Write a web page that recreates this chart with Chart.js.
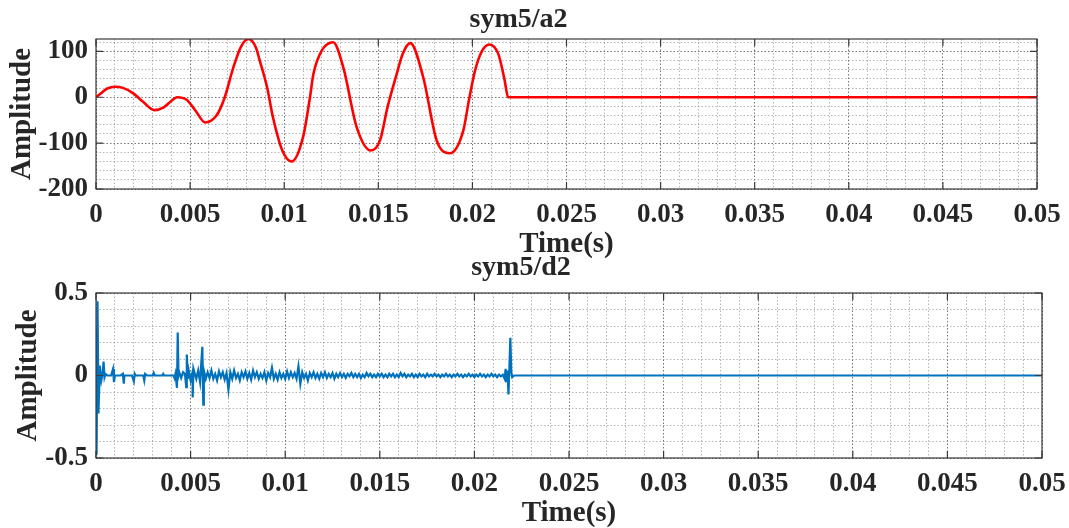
<!DOCTYPE html>
<html>
<head>
<meta charset="utf-8">
<title>sym5 a2 / d2</title>
<script src="https://cdn.jsdelivr.net/npm/chart.js@4.4.1/dist/chart.umd.min.js"></script>
<style>
  html, body { margin: 0; padding: 0; background: #fff; }
  #wrap { position: relative; width: 1069px; height: 528px; overflow: hidden; }
  .panel { position: absolute; left: 0; width: 1069px; }
  #top { top: 0; height: 264px; }
  #bottom { top: 250px; height: 278px; }
</style>
</head>
<body>
<div id="wrap">
  <div class="panel" id="top"><canvas id="graph-a2"></canvas></div>
  <div class="panel" id="bottom"><canvas id="graph-d2"></canvas></div>
</div>
<script>
/* x axis (seconds) */
var xMajorTicks = [0, 0.005, 0.01, 0.015, 0.02, 0.025, 0.03, 0.035, 0.04, 0.045, 0.05];
var xTickLabels = ['0', '0.005', '0.01', '0.015', '0.02', '0.025', '0.03', '0.035', '0.04', '0.045', '0.05'];

/* a2 approximation */
var a2Time = [0, 0.0003, 0.0006, 0.001, 0.0014, 0.002, 0.0025, 0.0031, 0.0036, 0.004,
  0.0043, 0.0048, 0.0053, 0.0058, 0.0064, 0.0068, 0.0073, 0.0077, 0.0081, 0.0085,
  0.0087, 0.0091, 0.0094, 0.0099, 0.0104, 0.011, 0.01137, 0.01155, 0.012, 0.0126,
  0.01314, 0.01385, 0.0146, 0.01509, 0.0155, 0.01598, 0.0163, 0.0167, 0.01739, 0.0181,
  0.0188, 0.01952, 0.0198, 0.02014, 0.0205, 0.0209, 0.02138, 0.0217, 0.0219, 0.05];
var a2Amp = [0, 10, 19, 23, 21, 8, -10, -28, -22, -8,
  0, -5, -30, -55, -40, -5, 65, 110, 127, 108,
  80, 20, -43, -116, -140, -87, 0, 50, 102, 120,
  65, -65, -116, -94, -20, 51, 95, 118, 43, -94,
  -122, -72, -10, 58, 100, 115, 94, 40, 0, 0];
var a2YTicks = [-200, -100, 0, 100];
var a2YLabels = ['-200', '-100', '0', '100'];

/* d2 detail */
var d2HeadTime = [0, 0.00003, 0.00008, 0.00013, 0.0002, 0.00028, 0.00035, 0.0004, 0.00045, 0.0005,
  0.0006, 0.0008, 0.0009, 0.00095, 0.001, 0.0013, 0.00142, 0.00147, 0.0015, 0.0019,
  0.002, 0.00205, 0.0021, 0.0025, 0.00255, 0.0026, 0.0027, 0.003, 0.00305, 0.0031,
  0.0035, 0.00355, 0.0036, 0.0041, 0.00415, 0.0042, 0.00428, 0.00432, 0.00436, 0.0044,
  0.0045, 0.0046, 0.0047, 0.00477, 0.0048, 0.00485, 0.0049, 0.005, 0.0051, 0.00511,
  0.00515, 0.0053, 0.0054, 0.0055, 0.00562, 0.00567, 0.0057, 0.0058];
var d2HeadAmp = [0.28, -0.48, 0.45, -0.23, 0.06, -0.03, 0.01, 0.085, -0.01, 0.01,
  0, 0, 0.04, -0.04, 0, 0, 0.01, -0.05, 0, 0,
  -0.035, 0.01, 0, 0, -0.03, 0.01, 0, 0, 0.015, 0,
  0, 0.01, 0, 0, -0.015, 0.01, -0.075, 0.26, 0, 0.02,
  -0.015, 0.02, 0.01, -0.07, 0.127, -0.02, 0.03, -0.03, 0.02, -0.133,
  0.04, -0.02, 0.03, -0.04, 0.174, -0.176, 0.03, -0.02];
var d2NoiseStart = 0.0059, d2NoiseStep = 0.0001;
var d2NoiseAmp = [
  0.02, -0.015, 0.03, -0.02, 0.01, -0.03, 0.025, -0.01, 0.02, -0.025,
  0.015, -0.085, 0.02, -0.02, 0.03, -0.015, 0.01, -0.03, 0.02, -0.01,
  0.025, -0.02, 0.015, -0.025, 0.03, -0.01, 0.02, -0.02, 0.01, -0.015,
  0.02, -0.03, 0.015, -0.01, 0.047, -0.02, 0.01, -0.025, 0.02, -0.015,
  0.01, -0.02, 0.025, -0.015, 0.02, -0.01, 0.015, -0.02, 0.056, -0.05,
  0.02, -0.015, 0.01, -0.03, 0.015, -0.01, 0.02, -0.015, 0.01, -0.02,
  0.015, -0.01, 0.02, -0.015, 0.01, -0.01, 0.015, -0.02, 0.01, -0.01,
  0.015, -0.01, 0.01, -0.015, 0.01, -0.005, 0.015, -0.01, 0.01, -0.01,
  0.01, -0.015, 0.005, -0.01, 0.015, -0.005, 0.01, -0.01, 0.005, -0.01,
  0.01, -0.005, 0.01, -0.01, 0.005, -0.01, 0.01, -0.005, 0.01, -0.01,
  0.005, -0.01, 0.015, -0.005, 0.01, -0.01, 0.005, -0.005, 0.01, -0.01,
  0.005, -0.01, 0.01, -0.005, 0.005, -0.01, 0.01, -0.005, 0.005, -0.005,
  0.01, -0.005, 0.005, -0.01, 0.005, -0.005, 0.01, -0.005, 0.005, -0.01,
  0.005, -0.005, 0.01, -0.005, 0.005, -0.01, 0.005, -0.005, 0.01, -0.005,
  0.005, -0.01, 0.005, -0.005, 0.01, -0.005, 0.005, -0.01, 0.005, -0.005,
  0.01, -0.005, 0.005, -0.01, 0.005, -0.005];
var d2TailTime = [0.0215, 0.0216, 0.02165, 0.0217, 0.02175, 0.0218, 0.02185, 0.0219, 0.02195, 0.022, 0.0221, 0.05];
var d2TailAmp = [0.005, -0.02, 0.04, -0.04, 0.03, -0.115, 0.05, 0.228, 0.02, -0.01, 0, 0];
var d2YTicks = [-0.5, 0, 0.5];
var d2YLabels = ['-0.5', '0', '0.5'];

Chart.defaults.font.family = '"Liberation Serif", "Times New Roman", serif';
Chart.defaults.font.weight = 'bold';
Chart.defaults.color = '#262626';

var majorGrid = 'rgba(70,70,70,0.75)';
var minorGrid = 'rgba(120,120,120,0.55)';

function near(v, list) {
	for (var i = 0; i < list.length; i++) {
		if (Math.abs(v - list[i]) < 1e-9 * Math.max(1, Math.abs(list[i]))) return i;
	}
	return -1;
}

function pairs(ts, vs) {
	return ts.map(function(t, i) { return { x: t, y: vs[i] }; });
}

function d2Data() {
	var pts = pairs(d2HeadTime, d2HeadAmp);
	d2NoiseAmp.forEach(function(v, i) {
		pts.push({ x: +(d2NoiseStart + i * d2NoiseStep).toFixed(5), y: v });
	});
	return pts.concat(pairs(d2TailTime, d2TailAmp));
}

/* box round the axes with inward tick marks, like the original figure */
var boxPlugin = {
	id: 'box',
	afterDatasetsDraw: function(chart, args, opts) {
		var ctx = chart.ctx, a = chart.chartArea, x = chart.scales.x, y = chart.scales.y;
		ctx.save();
		ctx.strokeStyle = '#3a3a3a';
		ctx.lineWidth = 1.2;
		ctx.strokeRect(a.left, a.top, a.right - a.left, a.bottom - a.top);
		ctx.beginPath();
		xMajorTicks.forEach(function(v) {
			var p = x.getPixelForValue(v);
			ctx.moveTo(p, a.bottom); ctx.lineTo(p, a.bottom - 7);
			ctx.moveTo(p, a.top); ctx.lineTo(p, a.top + 7);
		});
		opts.yTicks.forEach(function(v) {
			var p = y.getPixelForValue(v);
			ctx.moveTo(a.left, p); ctx.lineTo(a.left + 7, p);
			ctx.moveTo(a.right, p); ctx.lineTo(a.right - 7, p);
		});
		ctx.stroke();
		ctx.restore();
	}
};

function makeChart(id, cfg) {
	return new Chart(document.getElementById(id), {
		type: 'line',
		data: {
			datasets: [{
				data: cfg.data,
				borderColor: cfg.color,
				borderWidth: cfg.width,
				pointRadius: 0,
				cubicInterpolationMode: cfg.smooth ? 'monotone' : 'default',
				tension: 0,
				fill: false
			}]
		},
		plugins: [boxPlugin],
		options: {
			responsive: true,
			maintainAspectRatio: false,
			animation: false,
			events: [],
			layout: { padding: { left: 0, right: cfg.padRight, top: 0, bottom: 0 } },
			plugins: {
				legend: { display: false },
				tooltip: { enabled: false },
				title: {
					display: true,
					text: cfg.title,
					font: { size: 28, weight: 'bold', lineHeight: 1.2 },
					color: '#262626',
					padding: cfg.titlePad
				},
				box: { yTicks: cfg.yTicks }
			},
			scales: {
				x: {
					type: 'linear',
					min: 0,
					max: 0.05,
					afterFit: function(s) {
						s.height = cfg.xHeight;
						s.paddingLeft = 0;
						s.paddingRight = 0;
					},
					border: { display: false, dash: [1.5, 2] },
					grid: {
						drawTicks: false,
						lineWidth: 1,
						color: function(c) { return near(c.tick.value, xMajorTicks) >= 0 ? majorGrid : minorGrid; }
					},
					ticks: {
						stepSize: 0.001,
						autoSkip: false,
						maxRotation: 0,
						padding: 10,
						font: { size: 27, weight: 'bold', lineHeight: 1.2 },
						callback: function(v) {
							var i = near(v, xMajorTicks);
							return i >= 0 ? xTickLabels[i] : '';
						}
					},
					title: {
						display: true,
						text: 'Time(s)',
						font: { size: 29, weight: 'bold', lineHeight: 1 },
						padding: { top: 0, bottom: cfg.xTitlePad }
					}
				},
				y: {
					min: cfg.yMin,
					max: cfg.yMax,
					afterFit: function(s) { s.width = 96; },
					border: { display: false, dash: [1.5, 2] },
					grid: {
						drawTicks: false,
						lineWidth: 1,
						color: function(c) { return near(c.tick.value, cfg.yTicks) >= 0 ? majorGrid : minorGrid; }
					},
					ticks: {
						stepSize: cfg.yStep,
						includeBounds: false,
						autoSkip: false,
						padding: 8,
						font: { size: 27, weight: 'bold', lineHeight: 1.2 },
						callback: function(v) {
							var i = near(v, cfg.yTicks);
							return i >= 0 ? cfg.yLabels[i] : '';
						}
					},
					title: {
						display: true,
						text: 'Amplitude',
						font: { size: 29, weight: 'bold', lineHeight: 1 },
						padding: { top: cfg.yTitlePad, bottom: 0 }
					}
				}
			}
		}
	});
}

window.chartA2 = makeChart('graph-a2', {
	data: pairs(a2Time, a2Amp),
	color: '#ff0000',
	width: 2.6,
	smooth: true,
	title: 'sym5/a2',
	titlePad: { top: 3, bottom: 2.4 },
	padRight: 32,
	xHeight: 75,
	xTitlePad: 5,
	yMin: -200,
	yMax: 127,
	yStep: 20,
	yTicks: a2YTicks,
	yLabels: a2YLabels,
	yTitlePad: 8
});

window.chartD2 = makeChart('graph-d2', {
	data: d2Data(),
	color: '#0072bd',
	width: 2.2,
	smooth: false,
	title: 'sym5/d2',
	titlePad: { top: 1.2, bottom: 8.2 },
	padRight: 27,
	xHeight: 70,
	xTitlePad: 0,
	yMin: -0.5,
	yMax: 0.5,
	yStep: 0.1,
	yTicks: d2YTicks,
	yLabels: d2YLabels,
	yTitlePad: 14
});
</script>
</body>
</html>
